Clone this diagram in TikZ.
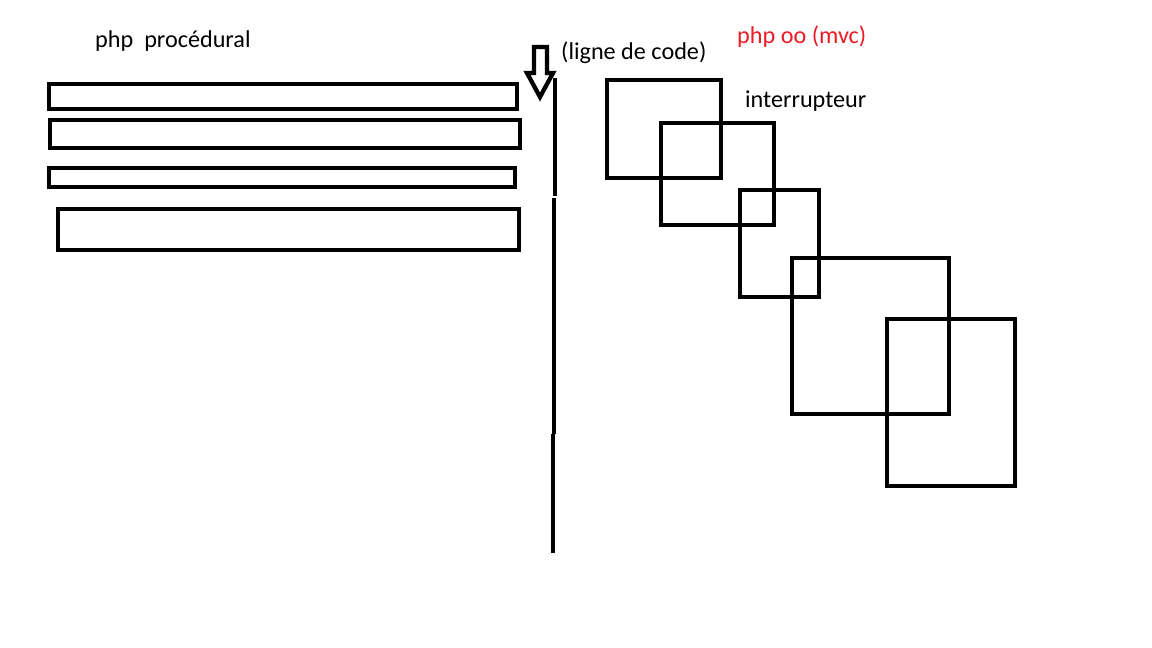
\documentclass[tikz,border=0pt]{standalone}
\usepackage{fontspec}
\setmainfont{Carlito}
\usetikzlibrary{positioning}
\definecolor{rougepaint}{RGB}{237,28,36}

\begin{document}
\begin{tikzpicture}[
    x=1pt, y=-1pt,
    trait/.style={line width=4.3pt, black},
    bloc/.style={trait},
    carre/.style={trait},
    texte/.style={
        inner sep=0pt,
        anchor=base west,
        font=\fontsize{24.2}{28}\selectfont
    }
]
\useasboundingbox[fill=white] (0,0) rectangle (1152,648);

% titres
\node[texte] (proc) at (95,47) {php~~procédural};
\node[texte, text=rougepaint] (oo) at (737,43) {php oo (mvc)};
\node[texte] (ligne) at (561,59) {(ligne de code)};
\node[texte] (inter) at (745,107) {interrupteur};

% php procedural : blocs les uns sous les autres
\draw[bloc] (49,84) rectangle (517,109);
\draw[bloc] (50,120) rectangle (520,148);
\draw[bloc] (49,168) rectangle (515,187);
\draw[bloc] (58,209) rectangle (519,250);

% fleche et ligne de code
\draw[trait] (534,47) -- (547,47) -- (547,73) -- (553,73)
    -- (540,97) -- (527,73) -- (534,73) -- cycle;
\coordinate (l0) at (555,78);
\coordinate (l1) at (555,196);
\coordinate (l2) at (554,198);
\coordinate (l3) at (554,434);
\coordinate (l4) at (553,434);
\coordinate (l5) at (553,553);
\draw[trait] (l0) -- (l1);
\draw[trait] (l2) -- (l3);
\draw[trait] (l4) -- (l5);

% php oo : carres qui se chevauchent
\draw[carre] (607,80) rectangle (721,178);
\draw[carre] (661,123) rectangle (774,225);
\draw[carre] (740,190) rectangle (819,297);
\draw[carre] (792,258) rectangle (949,414);
\draw[carre] (887,319) rectangle (1015,486);
\end{tikzpicture}
\end{document}
